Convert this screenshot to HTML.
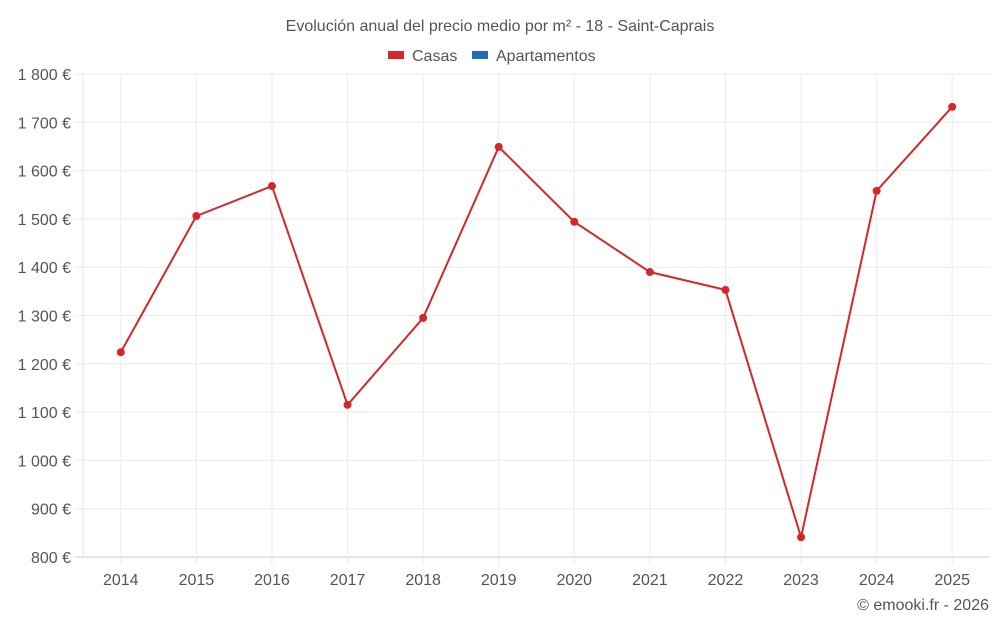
<!DOCTYPE html>
<html><head><meta charset="utf-8"><style>
body{margin:0;background:#fff;font-family:"Liberation Sans",sans-serif;}
svg text{font-family:"Liberation Sans",sans-serif;}
</style></head><body>
<svg id="c" width="1000" height="625">
<text x="500" y="31" text-anchor="middle" font-size="16" fill="#555">Evolución anual del precio medio por m² - 18 - Saint-Caprais</text>
<g>
<rect x="388" y="51" width="16" height="8" fill="#d62728"/>
<text x="412" y="61" font-size="16" fill="#555">Casas</text>
<rect x="472" y="51" width="16" height="8" fill="#1f6fb4"/>
<text x="496" y="61" font-size="16" fill="#555">Apartamentos</text>
</g>
<g id="grid"></g><g id="axes"></g><g id="series"></g>
<text x="989" y="610" text-anchor="end" font-size="16" fill="#555">© emooki.fr - 2026</text>
</svg>
<script>
const categories=["2014","2015","2016","2017","2018","2019","2020","2021","2022","2023","2024","2025"];
const casas=[1224,1506,1568,1115,1295,1649,1494,1390,1353,841,1558,1732];
const yTicks=[800,900,1000,1100,1200,1300,1400,1500,1600,1700,1800];
const yLabels=["800 €","900 €","1 000 €","1 100 €","1 200 €","1 300 €","1 400 €","1 500 €","1 600 €","1 700 €","1 800 €"];
const NS="http://www.w3.org/2000/svg";
const L=83,R=990,T=74,B=557,yMin=800,yMax=1800;
const bw=(R-L)/categories.length;
function xS(i){return L+bw*(i+0.5);}
function yS(v){return B-(v-yMin)/(yMax-yMin)*(B-T);}
function mk(t,a,p){const e=document.createElementNS(NS,t);for(const k in a)e.setAttribute(k,a[k]);p.appendChild(e);return e;}
const grid=document.getElementById('grid'),axes=document.getElementById('axes'),ser=document.getElementById('series');
const la=mk('line',{x1:L,x2:L,y1:T,y2:B,stroke:'#e6e6e6'},grid);


yTicks.forEach((v,i)=>{
 const g=mk('line',{x1:L-8,x2:R,y1:yS(v),y2:yS(v),stroke:v===yMin?'#ccc':'#ebebeb'},grid);
 
 
 const t=mk('text',{x:71,y:yS(v)+6,'text-anchor':'end','font-size':16,fill:'#555'},axes);
 t.textContent=yLabels[i];
 
 
});
categories.forEach((c,i)=>{
 const g=mk('line',{x1:xS(i),x2:xS(i),y1:T,y2:B+8,stroke:'#ebebeb'},grid);
 
 
 const t=mk('text',{x:xS(i),y:585,'text-anchor':'middle','font-size':16,fill:'#555'},axes);
 t.textContent=c;
 
 
});
const pl=mk('polyline',{points:casas.map((v,i)=>xS(i)+','+yS(v)).join(' '),fill:'none',stroke:'#d62728','stroke-width':2},ser);


casas.forEach((v,i)=>{
 const p=mk('circle',{cx:xS(i),cy:yS(v),r:4,fill:'#d62728'},ser);
 
 
});
</script>
</body></html>
